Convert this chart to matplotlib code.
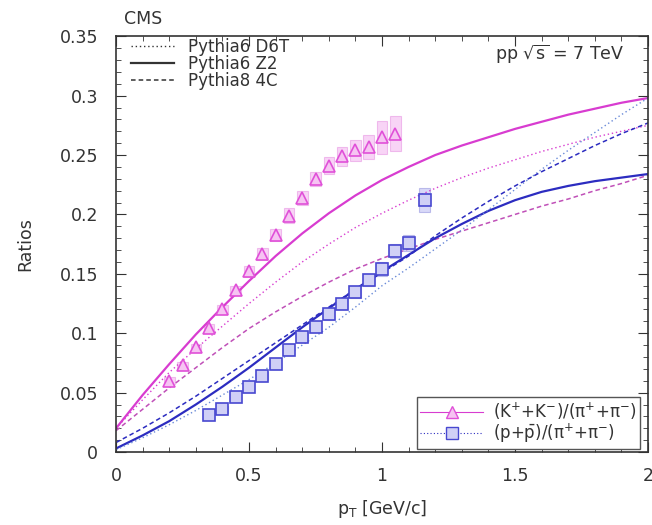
import numpy as np
import matplotlib
matplotlib.use("Agg")
import matplotlib.pyplot as plt
from matplotlib.lines import Line2D
from matplotlib.patches import Rectangle
from matplotlib.ticker import MultipleLocator

plt.rcParams['font.family'] = ['DejaVu Sans']
plt.rcParams['mathtext.fontset'] = 'dejavusans'

# measured ratios
pt_k = [0.2, 0.25, 0.3, 0.35, 0.4, 0.45, 0.5, 0.55, 0.6, 0.65, 0.7, 0.75,
        0.8, 0.85, 0.9, 0.95, 1.0, 1.05]
k_pi = [0.060, 0.073, 0.088, 0.104, 0.120, 0.136, 0.152, 0.167, 0.183, 0.199,
        0.214, 0.230, 0.241, 0.249, 0.254, 0.257, 0.265, 0.268]
k_sys = [0.003, 0.003, 0.003, 0.004, 0.004, 0.004, 0.005, 0.005, 0.005, 0.006,
         0.006, 0.006, 0.007, 0.008, 0.009, 0.010, 0.014, 0.015]

pt_p = [0.35, 0.4, 0.45, 0.5, 0.55, 0.6, 0.65, 0.7, 0.75, 0.8, 0.85, 0.9,
        0.95, 1.0, 1.05, 1.1, 1.16]
p_pi = [0.031, 0.036, 0.046, 0.055, 0.064, 0.074, 0.086, 0.097, 0.105, 0.116,
        0.125, 0.135, 0.145, 0.154, 0.169, 0.176, 0.212]
p_sys = [0.003, 0.003, 0.003, 0.003, 0.003, 0.004, 0.004, 0.004, 0.004, 0.005,
         0.005, 0.005, 0.005, 0.006, 0.006, 0.007, 0.010]

# generator curves
pt_mc = [0.0, 0.1, 0.2, 0.3, 0.4, 0.5, 0.6, 0.7, 0.8, 0.9, 1.0,
         1.1, 1.2, 1.3, 1.4, 1.5, 1.6, 1.7, 1.8, 1.9, 2.0]
k_z2 = [0.020, 0.048, 0.074, 0.099, 0.122, 0.144, 0.165, 0.184, 0.201, 0.216,
        0.229, 0.240, 0.250, 0.258, 0.265, 0.272, 0.278, 0.284, 0.289, 0.294, 0.298]
k_d6t = [0.020, 0.044, 0.067, 0.087, 0.106, 0.125, 0.143, 0.160, 0.175, 0.189,
         0.201, 0.212, 0.222, 0.231, 0.239, 0.246, 0.253, 0.259, 0.265, 0.270, 0.275]
k_4c = [0.018, 0.036, 0.054, 0.071, 0.088, 0.104, 0.118, 0.131, 0.143, 0.154,
        0.163, 0.171, 0.179, 0.186, 0.193, 0.200, 0.207, 0.213, 0.220, 0.226, 0.233]
p_z2 = [0.003, 0.014, 0.026, 0.040, 0.055, 0.071, 0.088, 0.105, 0.121, 0.137,
        0.152, 0.166, 0.180, 0.192, 0.203, 0.212, 0.219, 0.224, 0.228, 0.231, 0.234]
p_d6t = [0.002, 0.012, 0.023, 0.035, 0.048, 0.061, 0.075, 0.090, 0.105, 0.122,
         0.140, 0.155, 0.171, 0.187, 0.204, 0.221, 0.238, 0.254, 0.269, 0.284, 0.298]
p_4c = [0.008, 0.020, 0.033, 0.047, 0.062, 0.077, 0.092, 0.107, 0.122, 0.137,
        0.151, 0.165, 0.182, 0.197, 0.211, 0.224, 0.236, 0.247, 0.258, 0.268, 0.277]

mag = '#d83cd0'
mag_light = '#f4b8f0'
blu = '#2c2cc0'
blu_light = '#c0c0f4'
txt = '#333333'

fig = plt.figure(figsize=(6.52, 5.25), dpi=100)
ax = fig.add_axes([0.178, 0.139, 0.816, 0.792])

# systematic boxes
for x, y, s in zip(pt_k, k_pi, k_sys):
    ax.add_patch(Rectangle((x - 0.02, y - s), 0.04, 2 * s, fc=mag_light,
                           ec='#e898e4', lw=0.8, alpha=0.6, zorder=1))
for x, y, s in zip(pt_p, p_pi, p_sys):
    ax.add_patch(Rectangle((x - 0.02, y - s), 0.04, 2 * s, fc=blu_light,
                           ec='#9898e0', lw=0.8, alpha=0.6, zorder=1))

ax.plot(pt_mc, k_z2, color=mag, lw=1.6, ls='-', zorder=2)
ax.plot(pt_mc, k_d6t, color=mag, lw=1.0, ls=(0, (1, 2)), zorder=2)
ax.plot(pt_mc, k_4c, color='#c050b8', lw=1.1, ls=(0, (3, 2)), zorder=2)
ax.plot(pt_mc, p_z2, color=blu, lw=1.6, ls='-', zorder=2)
ax.plot(pt_mc, p_d6t, color='#6a8ad8', lw=1.0, ls=(0, (1, 2)), zorder=2)
ax.plot(pt_mc, p_4c, color=blu, lw=1.1, ls=(0, (3, 2)), zorder=2)

ax.plot(pt_k, k_pi, ls='none', marker='^', ms=8.5, mfc='#f6c4f2', mec='#e050d8',
        mew=1.2, zorder=3)
ax.plot(pt_p, p_pi, ls='none', marker='s', ms=8.5, mfc='#d0d0f6', mec='#4848d0',
        mew=1.2, zorder=3)

ax.set_xlim(0, 2)
ax.set_ylim(0, 0.35)
ax.xaxis.set_minor_locator(MultipleLocator(0.1))
ax.yaxis.set_minor_locator(MultipleLocator(0.01))
ax.set_xticks([0, 0.5, 1, 1.5, 2])
ax.set_xticklabels(['0', '0.5', '1', '1.5', '2'])
ax.set_yticks([0, 0.05, 0.1, 0.15, 0.2, 0.25, 0.3, 0.35])
ax.set_yticklabels(['0', '0.05', '0.1', '0.15', '0.2', '0.25', '0.3', '0.35'])
ax.tick_params(which='both', direction='in', top=True, right=True,
               labelsize=12.5, colors=txt)
ax.tick_params(which='major', length=7, width=0.8)
ax.tick_params(axis='y', which='major', pad=13)
ax.tick_params(axis='x', which='major', pad=11)
ax.tick_params(which='minor', length=3.5, width=0.6)
for sp in ax.spines.values():
    sp.set_color(txt)
    sp.set_linewidth(1.2)

ax.set_ylabel('Ratios', fontsize=12.5, color=txt, labelpad=18)
ax.set_xlabel(r'p$_\mathrm{T}$ [GeV/c]', fontsize=12.5, color=txt, labelpad=9)

fig.text(0.19, 0.963, 'CMS', fontsize=12.5, color=txt, va='center')
ax.text(0.955, 0.985, r'pp $\sqrt{\mathrm{s}}$ = 7 TeV', transform=ax.transAxes,
        ha='right', va='top', fontsize=12.5, color=txt)

style_handles = [Line2D([], [], color=txt, lw=1.0, ls=(0, (1, 2))),
                 Line2D([], [], color=txt, lw=1.6, ls='-'),
                 Line2D([], [], color=txt, lw=1.1, ls=(0, (3, 2)))]
leg1 = ax.legend(style_handles, ['Pythia6 D6T', 'Pythia6 Z2', 'Pythia8 4C'],
                 loc='upper left', bbox_to_anchor=(0.025, 1.0), frameon=False,
                 fontsize=12, handlelength=2.6, labelspacing=-0.05,
                 borderaxespad=0.0, borderpad=0.1, labelcolor=txt)
ax.add_artist(leg1)

data_handles = [Line2D([], [], color=mag, lw=0.8, marker='^', ms=8,
                       mfc='#f6c4f2', mec='#e050d8'),
                Line2D([], [], color=blu, lw=0.8, ls=(0, (1, 2)), marker='s', ms=8,
                       mfc='#d0d0f6', mec='#4848d0')]
leg2 = ax.legend(data_handles,
                 [r'(K$^{+}$+K$^{-}$)/(π$^{+}$+π$^{-}$)',
                  r'(p+$\bar{\mathrm{p}}$)/(π$^{+}$+π$^{-}$)'],
                 loc='lower right', bbox_to_anchor=(0.985, 0.008), fontsize=12,
                 handlelength=3.8, labelspacing=0.0, borderpad=0.2,
                 borderaxespad=0.0, handletextpad=0.6, fancybox=False,
                 edgecolor='#555555', framealpha=1, labelcolor=txt)
leg2.get_frame().set_linewidth(1.0)

fig.savefig('out.png', dpi=100)
